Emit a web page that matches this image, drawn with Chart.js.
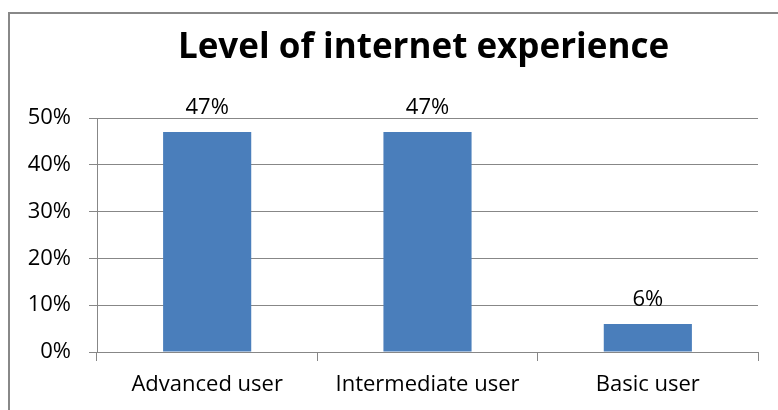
<!DOCTYPE html>
<html>
<head>
<meta charset="utf-8">
<title>Level of internet experience</title>
<script src="https://cdn.jsdelivr.net/npm/chart.js@4.4.1/dist/chart.umd.min.js"></script>
<style>
    html, body { margin: 0; padding: 0; background: #ffffff; overflow: hidden; }
    #wrap { position: relative; width: 778px; height: 410px; }
</style>
</head>
<body>
<div id="wrap"><canvas id="chartExperiencia"></canvas></div>
<script>
// Datos
const categorias = ['Advanced user', 'Intermediate user', 'Basic user'];
const porcentajes = [47, 47, 6];
const ticksY = [0, 10, 20, 30, 40, 50];
const titulo = 'Level of internet experience';

const fuente = "'Open Sans', 'Liberation Sans', sans-serif";
const gris = '#878787';

// Marco exterior (solo se ven el borde izquierdo y el superior) y título
// centrado sobre el área de barras, no sobre todo el canvas
const marcoYTitulo = {
    id: 'marcoYTitulo',
    beforeDraw(chart) {
        const ctx = chart.ctx;
        const area = chart.chartArea;
        ctx.save();
        ctx.strokeStyle = '#888888';
        ctx.lineWidth = 2;
        ctx.beginPath();
        ctx.moveTo(9, chart.height);
        ctx.lineTo(9, 13);
        ctx.lineTo(chart.width, 13);
        ctx.stroke();

        ctx.font = `bold 35px ${fuente}`;
        ctx.fillStyle = '#000000';
        ctx.textAlign = 'center';
        ctx.textBaseline = 'middle';
        ctx.fillText(titulo, (area.left + area.right) / 2 - 4, 48);
        ctx.restore();
    }
};

// Etiquetas de valor encima de cada barra
const etiquetasValor = {
    id: 'etiquetasValor',
    afterDatasetsDraw(chart) {
        const ctx = chart.ctx;
        const meta = chart.getDatasetMeta(0);
        ctx.save();
        ctx.font = `22px ${fuente}`;
        ctx.fillStyle = '#000000';
        ctx.textAlign = 'center';
        ctx.textBaseline = 'bottom';
        meta.data.forEach((bar, i) => {
            ctx.fillText(porcentajes[i] + '%', bar.x, bar.y - 13);
        });
        ctx.restore();
    }
};

const ctx = document.getElementById('chartExperiencia').getContext('2d');

new Chart(ctx, {
    type: 'bar',
    data: {
        labels: categorias,
        datasets: [{
            data: porcentajes,
            backgroundColor: '#4A7EBB',
            categoryPercentage: 0.4,
            barPercentage: 1.0
        }]
    },
    options: {
        responsive: true,
        maintainAspectRatio: false,
        animation: false,
        layout: {
            padding: { left: 0, right: 20, top: 118, bottom: 0 }
        },
        plugins: {
            legend: { display: false },
            tooltip: { enabled: false },
            title: { display: false }
        },
        scales: {
            x: {
                afterFit(scale) { scale.height = 58; },
                grid: {
                    offset: true,
                    drawOnChartArea: false,
                    drawTicks: true,
                    tickLength: 9,
                    color: gris
                },
                border: { color: gris },
                ticks: {
                    color: '#000000',
                    padding: 11,
                    font: { family: fuente, size: 22 }
                }
            },
            y: {
                min: 0,
                max: 50,
                afterFit(scale) { scale.width = 97; },
                afterBuildTicks(scale) {
                    scale.ticks = ticksY.map(v => ({ value: v }));
                },
                grid: {
                    color: gris,
                    tickLength: 8
                },
                border: { color: gris },
                ticks: {
                    color: '#000000',
                    padding: 18,
                    font: { family: fuente, size: 22 },
                    callback: v => v + '%'
                }
            }
        }
    },
    plugins: [marcoYTitulo, etiquetasValor]
});
</script>
</body>
</html>
